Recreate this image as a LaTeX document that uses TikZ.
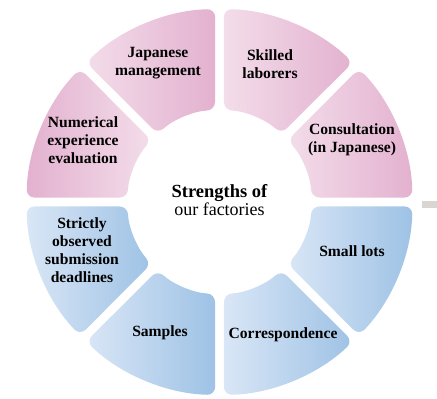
\documentclass[tikz,border=0pt]{standalone}
\usepackage{fontspec}
\setmainfont{Liberation Serif}
\usetikzlibrary{calc}
\definecolor{pinkL}{RGB}{243,221,234}
\definecolor{pinkD}{RGB}{227,177,207}
\definecolor{blueL}{RGB}{217,230,246}
\definecolor{blueD}{RGB}{158,194,229}
\definecolor{tabgray}{RGB}{216,213,211}

\begin{document}
\begin{tikzpicture}[x=1pt,y=1pt,
  lbl/.style={font=\fontsize{15.6}{18}\selectfont\bfseries, align=center, inner sep=0pt}]
  \useasboundingbox (0,0) rectangle (437,399);
  \coordinate (c) at (219.5,197);
  % ring of eight pieces, gap of about 9 units between them
  \foreach \a/\lc/\rc in {0/pinkL/pinkD, 45/pinkL/pinkD, 90/pinkL/pinkD, 135/pinkD/pinkL,
                          180/blueL/blueD, 225/blueL/blueD, 270/blueL/blueD, 315/blueL/blueD}
    \shade[left color=\lc, right color=\rc, rounded corners=8pt]
      ($(c)+(\a+1.3:193)$) arc[start angle=\a+1.3, end angle=\a+43.7, radius=193]
      -- ($(c)+(\a+42.2:92)$) arc[start angle=\a+42.2, end angle=\a+2.8, radius=92] -- cycle;
  \fill[tabgray] (422,191) rectangle (437,198);
  \node[align=center, inner sep=0pt] (title) at (219.5,199)
    {\fontsize{18.5}{21}\selectfont\bfseries Strengths of\\
     \fontsize{18}{21}\selectfont our factories};
  \node[lbl] (japan)   at (158,336) {Japanese\\management};
  \node[lbl] (skilled) at (270,335) {Skilled\\laborers};
  \node[lbl] (consult) at (352,259) {Consultation\\(in Japanese)};
  \node[lbl] (numeric) at (83,259)  {Numerical\\experience\\evaluation};
  \node[lbl] (strict)  at (82,149)  {Strictly\\observed\\submission\\deadlines};
  \node[lbl] (lots)    at (352,148) {Small lots};
  \node[lbl] (samples) at (160,66)  {Samples};
  \node[lbl] (corresp) at (283,64)  {Correspondence};
\end{tikzpicture}
\end{document}
